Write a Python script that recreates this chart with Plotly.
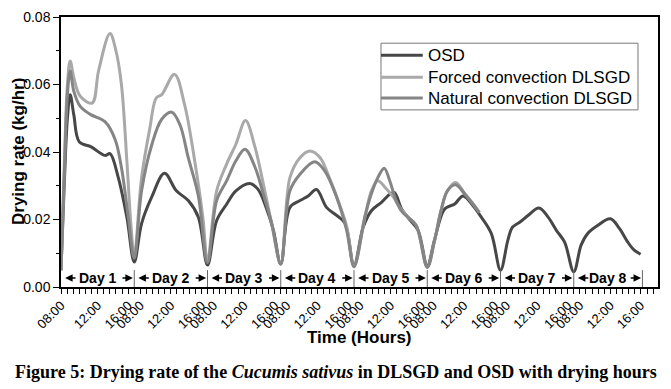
import plotly.graph_objects as go

# ---------------- data (hours since 08:00 of Day 1; each day = 8 daylight hours) -------------
hours_osd = [0, 0.35, 0.7, 1.0, 1.4, 2.0, 3.3, 4.8, 5.35, 6.25, 7.2, 8.0,
             8.8, 9.9, 11.3, 12.6, 13.9, 15.0, 16.0,
             17.0, 18.1, 19.1, 20.6, 21.5, 22.4, 23.2, 24.0,
             25.0, 26.1, 27.0, 27.9, 29.0, 30.1, 31.0, 32.0,
             33.0, 33.9, 35.0, 35.9, 36.4, 37.2, 38.0, 39.0, 40.0,
             40.8, 41.9, 43.0, 43.9, 45.0, 45.9, 47.0, 48.0,
             48.8, 49.3, 50.1, 51.0, 52.2, 53.2, 54.1, 55.0, 56.0,
             56.8, 57.5, 58.6, 60.0, 61.0, 61.9, 62.6, 63.3]
rate_osd = [0.005, 0.030, 0.050, 0.057, 0.051, 0.043, 0.0415, 0.039, 0.0395, 0.0325, 0.0205, 0.0074,
            0.0188, 0.0266, 0.0337, 0.0285, 0.0256, 0.0207, 0.0065,
            0.0197, 0.0246, 0.0285, 0.0307, 0.0290, 0.0236, 0.0168, 0.0068,
            0.0236, 0.0256, 0.0270, 0.0289, 0.0236, 0.0212, 0.0190, 0.0065,
            0.0177, 0.0226, 0.0251, 0.0275, 0.0280, 0.0231, 0.0202, 0.0168, 0.0063,
            0.0140, 0.0231, 0.0246, 0.0270, 0.0241, 0.0207, 0.0158, 0.0050,
            0.0138, 0.0177, 0.0192, 0.0212, 0.0234, 0.0207, 0.0168, 0.0133, 0.0045,
            0.0124, 0.0158, 0.0182, 0.0202, 0.0173, 0.0133, 0.0109, 0.0097]

hours_forced = [0, 0.35, 0.7, 1.0, 1.4, 2.1, 3.4, 4.1, 5.35, 6.0, 6.6, 7.2, 7.65, 8.0,
                8.8, 9.7, 10.4, 11.0, 12.4, 13.5, 14.6, 15.5, 16.0,
                17.0, 18.1, 19.1, 20.15, 21.2, 22.1, 23.0, 24.0,
                25.0, 26.1, 27.2, 28.3, 29.3, 30.4, 31.2, 32.0,
                33.2, 33.9, 34.6, 35.4, 36.3, 37.0, 37.9, 38.8, 40.0,
                40.8, 41.5, 42.2, 43.1, 44.1, 45.0, 45.7]
rate_forced = [0.005, 0.035, 0.060, 0.067, 0.062, 0.0565, 0.0545, 0.064, 0.0751, 0.070, 0.060, 0.037, 0.018, 0.009,
               0.0324, 0.047, 0.056, 0.057, 0.063, 0.054, 0.0374, 0.0205, 0.0075,
               0.0285, 0.0365, 0.0423, 0.0493, 0.0413, 0.0305, 0.0188, 0.0070,
               0.0324, 0.0383, 0.0403, 0.0383, 0.0324, 0.0246, 0.0180, 0.0062,
               0.0207, 0.0285, 0.0315, 0.0295, 0.0266, 0.0236, 0.0207, 0.0182, 0.0060,
               0.0138, 0.0226, 0.0285, 0.0310, 0.0277, 0.0246, 0.0221]

hours_natural = [0, 0.35, 0.7, 1.0, 1.4, 2.1, 3.3, 4.8, 5.9, 6.6, 7.35, 8.0,
                 8.8, 9.9, 11.0, 12.1, 13.0, 13.9, 15.0, 16.0,
                 17.0, 18.1, 19.1, 20.1, 21.2, 22.1, 23.0, 24.0,
                 25.0, 26.1, 27.7, 28.8, 30.1, 31.2, 32.0,
                 33.2, 33.9, 34.6, 35.3, 35.9, 36.6, 37.3, 37.9, 38.8, 40.0,
                 40.8, 41.5, 42.2, 43.1, 44.1, 45.0, 45.7]
rate_natural = [0.005, 0.033, 0.057, 0.064, 0.058, 0.0535, 0.051, 0.049, 0.0438, 0.0354, 0.0207, 0.0085,
                0.0285, 0.042, 0.0497, 0.0518, 0.048, 0.0383, 0.027, 0.0072,
                0.0256, 0.0315, 0.0374, 0.0408, 0.0354, 0.0275, 0.019, 0.0068,
                0.0285, 0.0334, 0.0371, 0.0344, 0.0266, 0.0168, 0.0060,
                0.021, 0.0276, 0.0324, 0.0352, 0.0315, 0.0256, 0.0221, 0.0207, 0.0182, 0.0058,
                0.0138, 0.0226, 0.0285, 0.0303, 0.0275, 0.0246, 0.0220]

tick_hours = [0, 4, 7.35, 8.65, 12, 15.35, 16.65, 20, 23.35, 24.65, 28, 31.35, 32.65, 36,
              39.35, 40.65, 44, 47.35, 48.65, 52, 55.35, 56.65, 60, 63.3]
tick_labels = ["08:00", "12:00", "16:00", "08:00", "12:00", "16:00", "08:00", "12:00",
               "16:00", "08:00", "12:00", "16:00", "08:00", "12:00", "16:00", "08:00",
               "12:00", "16:00", "08:00", "12:00", "16:00", "08:00", "12:00", "16:00"]

day_labels = ["Day 1", "Day 2", "Day 3", "Day 4", "Day 5", "Day 6", "Day 7", "Day 8"]
day_bounds = [0, 8, 16, 24, 32, 40, 48, 56, 63.5]

series_names = ["OSD", "Forced convection DLSGD", "Natural convection DLSGD"]
colors = ["#474747", "#a9a9a9", "#858585"]

# ---------------- figure ----------------
fig = go.Figure()
for name, xs, ys, c in zip(series_names,
                           [hours_osd, hours_forced, hours_natural],
                           [rate_osd, rate_forced, rate_natural], colors):
    fig.add_trace(go.Scatter(x=xs, y=ys, mode="lines", name=name, showlegend=False,
                             line=dict(color=c, width=3, shape="spline", smoothing=1.0)))

font_sans = "Liberation Sans, Arial, sans-serif"

# day separators
for b in day_bounds[1:]:
    fig.add_shape(type="line", xref="x", yref="y", x0=b, x1=b, y0=0, y1=0.005,
                  line=dict(color="#666666", width=1))

# day labels with arrows
for i, lab in enumerate(day_labels):
    s, e = day_bounds[i], day_bounds[i + 1]
    mid = (s + e) / 2
    yl = 0.0027
    fig.add_annotation(x=mid, y=yl, xref="x", yref="y", text="<b>%s</b>" % lab,
                       showarrow=False, font=dict(family=font_sans, size=14, color="black"))
    fig.add_annotation(x=s + 0.45, y=yl, ax=s + 1.75, ay=yl, xref="x", yref="y",
                       axref="x", ayref="y", text="", showarrow=True, arrowhead=2,
                       arrowsize=1, arrowwidth=1.5, arrowcolor="black")
    fig.add_annotation(x=e - 0.15, y=yl, ax=e - 1.45, ay=yl, xref="x", yref="y",
                       axref="x", ayref="y", text="", showarrow=True, arrowhead=2,
                       arrowsize=1, arrowwidth=1.5, arrowcolor="black")

# legend box (drawn in paper coordinates)
leg_rows_y = [0.858, 0.777, 0.700]
fig.add_shape(type="rect", xref="paper", yref="paper", x0=0.536, x1=0.9665, y0=0.656, y1=0.903,
              line=dict(color="#777777", width=1), fillcolor="white", layer="above")
for name, c, yy in zip(series_names, colors, leg_rows_y):
    fig.add_shape(type="line", xref="paper", yref="paper", x0=0.536, x1=0.606, y0=yy, y1=yy,
                  line=dict(color=c, width=3), layer="above")
    fig.add_annotation(x=0.612, y=yy, xref="paper", yref="paper", text=name, showarrow=False,
                       xanchor="left", yanchor="middle",
                       font=dict(family=font_sans, size=17, color="black"))

fig.update_xaxes(range=[0, 65.2], tickvals=tick_hours, ticktext=tick_labels,
                 tickangle=-45, ticks="", ticklabelstandoff=4,
                 showline=True, linecolor="black", linewidth=1.5,
                 mirror=True, showgrid=False, zeroline=False, automargin=False,
                 tickfont=dict(family=font_sans, size=13, color="black"),
                 minor=dict(ticks="outside", tick0=0, dtick=8 / 12, ticklen=5,
                            tickwidth=1, tickcolor="black", showgrid=False))
fig.update_yaxes(range=[0, 0.08], tickvals=[0, 0.02, 0.04, 0.06, 0.08], tickformat=".2f",
                 ticks="outside", ticklen=6, tickwidth=1.2, tickcolor="black",
                 ticklabeloverflow="allow",
                 showline=True, linecolor="black", linewidth=1.5, mirror=True,
                 showgrid=False, zeroline=False, automargin=False,
                 tickfont=dict(family=font_sans, size=14, color="black"),
                 minor=dict(ticks="outside", dtick=0.01, ticklen=3, tickwidth=1,
                            tickcolor="black", showgrid=False))

# axis titles
fig.add_annotation(x=0.5, y=-0.187, xref="paper", yref="paper", text="<b>Time (Hours)</b>",
                   xanchor="center", yanchor="middle",
                   showarrow=False, font=dict(family=font_sans, size=17, color="black"))
fig.add_annotation(x=-0.072, y=0.5, xref="paper", yref="paper", text="<b>Drying rate (kg/hr)</b>",
                   xanchor="center", yanchor="middle",
                   textangle=-90, showarrow=False, font=dict(family=font_sans, size=17, color="black"))
# caption
fig.add_annotation(x=0.4606, y=-0.314, xref="paper", yref="paper",
                   text="<b>Figure 5: Drying rate of the <i>Cucumis sativus</i> in DLSGD and OSD with drying hours</b>",
                   xanchor="center", yanchor="middle", showarrow=False,
                   font=dict(family="Liberation Serif, Times New Roman, serif", size=18, color="black"))

# the page body adds an 8px offset, so margins are reduced by 8px on the left/top
fig.update_layout(width=671, height=389, margin=dict(l=53, r=21, t=9, b=110),
                  paper_bgcolor="white", plot_bgcolor="white", showlegend=False)

fig.write_html("out.html")
